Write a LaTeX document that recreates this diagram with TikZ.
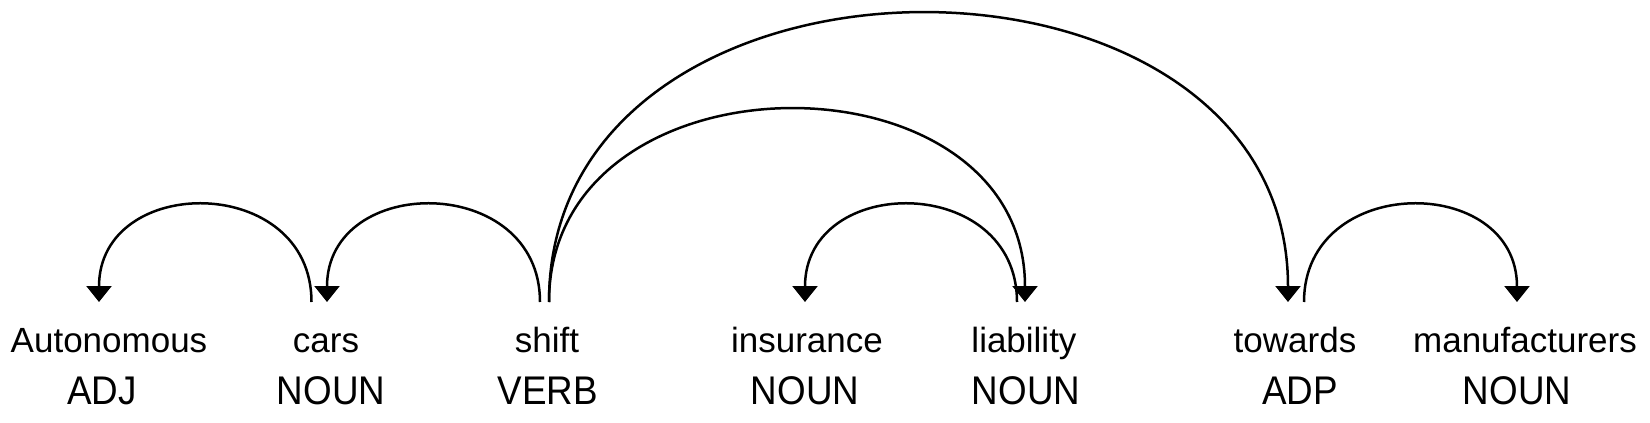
\documentclass[tikz,border=0pt]{standalone}
\usepackage{fontspec}
\usetikzlibrary{arrows.meta}
\newfontfamily\wordfont{Liberation Sans}
\newfontfamily\tagfont[FakeStretch=0.92]{Liberation Sans}

\begin{document}
\begin{tikzpicture}[x=0.5pt,y=-0.5pt,
		word/.style={font={\wordfont\fontsize{17.5pt}{21pt}\selectfont},anchor=base,inner sep=0pt},
		tag/.style={font={\tagfont\fontsize{20pt}{24pt}\selectfont},anchor=base,inner sep=0pt},
		dep/.style={line width=1.25pt,-{Triangle[width=12.5pt,length=8pt]}}]
		\useasboundingbox (0,0) rectangle (1650,423);
		
		\node[word] (aut) at (109,352) {Autonomous};
		\node[word] (cars) at (326,352) {cars};
		\node[word] (shift) at (547,352) {shift};
		\node[word] (ins) at (807,352) {insurance};
		\node[word] (liab) at (1024,352) {liability};
		\node[word] (tow) at (1295,352) {towards};
		\node[word] (man) at (1525,352) {manufacturers};
		
		\node[tag] (aut-pos) at (102,404) {ADJ};
		\node[tag] (cars-pos) at (331,404) {NOUN};
		\node[tag] (shift-pos) at (548,404) {VERB};
		\node[tag] (ins-pos) at (805,404) {NOUN};
		\node[tag] (liab-pos) at (1026,404) {NOUN};
		\node[tag] (tow-pos) at (1300,404) {ADP};
		\node[tag] (man-pos) at (1517,404) {NOUN};
		
		\coordinate (aut-in) at (99,302);
		\coordinate (cars-out) at (311.5,302);
		\coordinate (cars-in) at (327,302);
		\coordinate (shift-l) at (540,302);
		\coordinate (shift-r) at (549,302);
		\coordinate (ins-in) at (805,302);
		\coordinate (liab-l) at (1017,302);
		\coordinate (liab-in) at (1025,302);
		\coordinate (tow-in) at (1288,302);
		\coordinate (tow-r) at (1304,302);
		\coordinate (man-in) at (1517,302);
		
		\draw[dep] (cars-out) .. controls +(0,-129) and +(0,-129) .. (aut-in);
		\draw[dep] (shift-l) .. controls +(0,-129) and +(0,-129) .. (cars-in);
		\draw[dep] (shift-r) .. controls +(0,-256) and +(0,-256) .. (liab-in);
		\draw[dep] (shift-r) .. controls +(0,-384) and +(0,-384) .. (tow-in);
		\draw[dep] (liab-l) .. controls +(0,-129) and +(0,-129) .. (ins-in);
		\draw[dep] (tow-r) .. controls +(0,-129) and +(0,-129) .. (man-in);
	\end{tikzpicture}
\end{document}
